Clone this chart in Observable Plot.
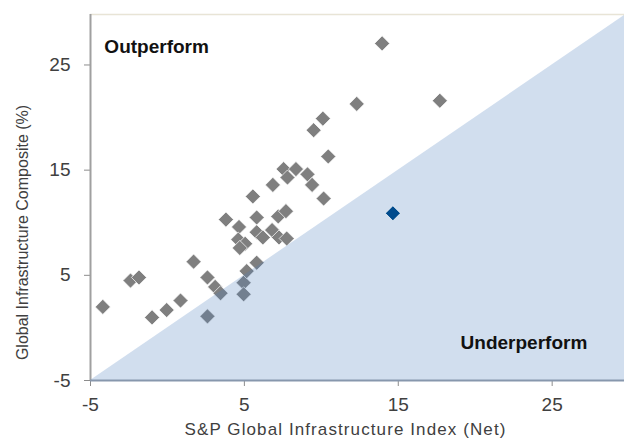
<!DOCTYPE html>
<html>
<head>
<meta charset="utf-8">
<script src="https://cdn.jsdelivr.net/npm/d3@7"></script>
<script src="https://cdn.jsdelivr.net/npm/@observablehq/plot@0.6"></script>
<style>
  html, body { margin: 0; padding: 0; background: #fff; }
  #chart { width: 624px; height: 442px; }
  .xtitle text { letter-spacing: 1.1px; }
</style>
</head>
<body>
<div id="chart"></div>
<script>
// S&P Global Infrastructure Index (Net) vs Global Infrastructure Composite (%)
const grayX = [-4.2, -2.4, -1.85, -1.0, -0.05, 0.85, 1.7, 2.6, 3.1, 3.45, 2.6, 4.95, 4.95, 5.15, 5.8,
               3.8, 4.65, 4.6, 5.05, 4.7, 5.55, 5.8, 5.8, 6.2, 6.85, 6.8, 7.2, 7.7, 7.25, 7.75,
               7.55, 7.8, 8.35, 9.1, 9.4, 10.15, 10.45, 9.5, 10.1, 12.3, 13.95, 17.7];
const grayY = [2.0, 4.5, 4.8, 1.0, 1.7, 2.6, 6.3, 4.8, 3.9, 3.3, 1.1, 4.3, 3.2, 5.4, 6.2,
               10.3, 9.6, 8.4, 8.0, 7.6, 12.5, 10.5, 9.1, 8.6, 13.6, 9.3, 10.6, 11.1, 8.6, 8.5,
               15.1, 14.3, 15.1, 14.6, 13.6, 12.3, 16.3, 18.8, 19.9, 21.3, 27.05, 21.6];
const blueX = [14.65];
const blueY = [10.9];

const xTicks = [-5, 5, 15, 25];
const yTicks = [-5, 5, 15, 25];
const xDomain = [-5, 29.7];
const yDomain = [-5, 29.8];

const xTitle = "S&P Global Infrastructure Index (Net)";
const yTitle = "Global Infrastructure Composite (%)";
const noteLabels = ["Outperform", "Underperform"];
const noteX = [-4.1, 19.05];
const noteY = [26.75, -1.4];

const gray = grayX.map((x, i) => ({x, y: grayY[i]}));
const blue = blueX.map((x, i) => ({x, y: blueY[i]}));
const shade = xDomain.map(x => ({x, y1: -5, y2: x}));
const notes = noteLabels.map((t, i) => ({t, x: noteX[i], y: noteY[i]}));

const font = "'Liberation Sans', Arial, sans-serif";
const fmt = d => String(d);

const chart = Plot.plot({
  width: 624,
  height: 442,
  marginLeft: 90,
  marginRight: 0,
  marginTop: 14,
  marginBottom: 62,
  style: {fontFamily: font, background: "#fff", overflow: "visible"},
  x: {domain: xDomain},
  y: {domain: yDomain},
  marks: [
    Plot.ruleY([yDomain[1]], {stroke: "#e8e4d6", strokeWidth: 1.5}),
    Plot.dot(gray, {x: "x", y: "y", symbol: "diamond2", r: 6.8, fill: "#7f7f7f", stroke: "#fff", strokeWidth: 0.7}),
    Plot.areaY(shade, {x: "x", y1: "y1", y2: "y2", fill: "#4f81bd", fillOpacity: 0.26}),
    Plot.dot(blue, {x: "x", y: "y", symbol: "diamond2", r: 6.8, fill: "#004b8d", stroke: "#fff", strokeWidth: 0.7}),
    Plot.axisX({ticks: xTicks, tickFormat: fmt, tickSize: 6, tickPadding: 11, stroke: "#8c8c8c", color: "#404040", fontSize: 19, label: null}),
    Plot.axisY({ticks: yTicks, tickFormat: fmt, tickSize: 6, tickPadding: 14, stroke: "#8c8c8c", color: "#404040", fontSize: 19, label: null}),
    Plot.ruleX([xDomain[0]], {stroke: "#a0a0a0", strokeWidth: 2}),
    Plot.ruleY([yDomain[0]], {stroke: "#8797ad", strokeWidth: 2}),
    Plot.text(notes, {x: "x", y: "y", text: "t", textAnchor: "start", fontSize: 19, fontWeight: "bold", fill: "#111"}),
    Plot.text([xTitle], {frameAnchor: "bottom", text: d => d, textAnchor: "middle", dx: -12, dy: 54, fontSize: 17, fill: "#404040", className: "xtitle"}),
    Plot.text([yTitle], {frameAnchor: "left", text: d => d, textAnchor: "middle", lineAnchor: "middle", rotate: -90, dx: -68, dy: 35, fontSize: 16, fill: "#404040"})
  ]
});
document.getElementById("chart").appendChild(chart);
</script>
</body>
</html>
